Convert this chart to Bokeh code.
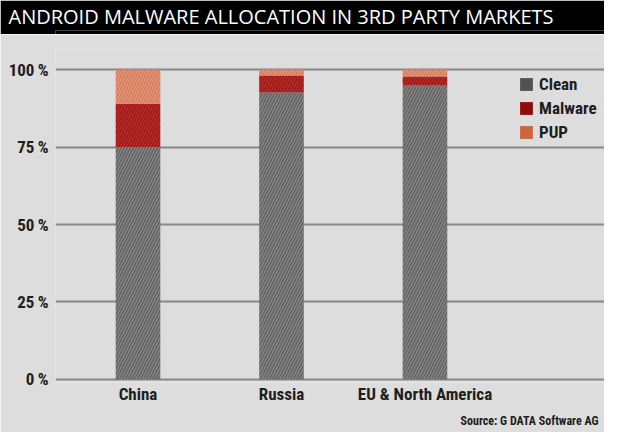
from bokeh.plotting import figure
from bokeh.models import (ColumnDataSource, FixedTicker, Legend, LegendItem, Range1d, Title)
from bokeh.layouts import column
from bokeh.embed import file_html
from bokeh.resources import INLINE

# ---- data ----
markets = ["China", "Russia", "EU & North America"]
clean = [75.0, 92.7, 95.0]
malware = [14.0, 5.4, 2.8]
pup = [11.0, 1.9, 2.2]
y_ticks = [0, 25, 50, 75, 100]
y_tick_labels = ["0\u2009%", "25\u2009%", "50\u2009%", "75\u2009%", "100\u2009%"]
series_names = ["Clean", "Malware", "PUP"]

TITLE = "ANDROID MALWARE ALLOCATION IN 3RD PARTY MARKETS"
SOURCE = "Source: G DATA Software AG"

COND = "Liberation Sans Narrow, Roboto Condensed, DejaVu Sans Condensed, Roboto, sans-serif"
BG = "#dddddd"
LEFT = 55

# ---- title band ----
top = figure(width=604, height=34, output_backend="svg", toolbar_location=None,
             x_range=Range1d(0, 1), y_range=Range1d(0, 1),
             min_border_left=LEFT, min_border_right=0, min_border_top=0, min_border_bottom=0,
             background_fill_color="black", border_fill_color="black",
             outline_line_color=None)
top.axis.visible = False
top.grid.visible = False
top.title = Title(text=TITLE, align="left", offset=-47, standoff=1,
                  text_color="white", text_font="Open Sans", text_font_size="20px",
                  text_font_style="normal")

# ---- main chart ----
xs = list(range(len(markets)))
src = ColumnDataSource(dict(x=xs, clean=clean, malware=malware, pup=pup,
                            b1=clean,
                            t1=[c + m for c, m in zip(clean, malware)],
                            t2=[c + m + u for c, m, u in zip(clean, malware, pup)]))

p = figure(width=604, height=398, output_backend="svg", toolbar_location=None,
           x_range=Range1d(-0.575, 3.251), y_range=Range1d(-1, 106.5),
           min_border_left=LEFT, min_border_right=0, min_border_top=15, min_border_bottom=48,
           background_fill_color=BG, border_fill_color=BG, outline_line_color=None)

p.xgrid.visible = False
p.ygrid.ticker = FixedTicker(ticks=y_ticks)
p.ygrid.grid_line_color = "#888888"
p.ygrid.grid_line_width = 2

bw = 0.31
hatch = dict(hatch_pattern="/", hatch_scale=6, hatch_weight=1.5, hatch_alpha=0.6)
p.vbar(x="x", bottom=0, top="clean", width=bw, source=src,
       fill_color="#5e5e5e", line_color=None, hatch_color="#a0a0a0", **hatch)
p.vbar(x="x", bottom="b1", top="t1", width=bw, source=src,
       fill_color="#9c1414", line_color=None, hatch_color="#c4403a", **hatch)
p.vbar(x="x", bottom="t1", top="t2", width=bw, source=src,
       fill_color="#d27656", line_color=None, hatch_color="#eeb096", **hatch)

# axes
p.xaxis.ticker = FixedTicker(ticks=xs)
p.xaxis.major_label_overrides = {i: m for i, m in enumerate(markets)}
p.yaxis.ticker = FixedTicker(ticks=y_ticks)
p.yaxis.major_label_overrides = {t: l for t, l in zip(y_ticks, y_tick_labels)}
for ax in (p.xaxis[0], p.yaxis[0]):
    ax.axis_line_color = None
    ax.major_tick_line_color = None
    ax.minor_tick_line_color = None
    ax.major_tick_out = 0
    ax.major_tick_in = 0
    ax.major_label_text_font = COND
    ax.major_label_text_font_style = "bold"
    ax.major_label_text_font_size = "17px"
    ax.major_label_text_color = "#1e1e1e"
p.xaxis.major_label_standoff = 1
p.yaxis.major_label_standoff = 7

# legend with solid swatches (NaN geometry: only the legend swatch is drawn)
nan = float("nan")
leg_colors = ["#525252", "#8d0c0c", "#c9653f"]
items = []
for name, col in zip(series_names, leg_colors):
    r = p.quad(left=[nan], right=[nan], top=[nan], bottom=[nan], fill_color=col, line_color=None)
    items.append(LegendItem(label=name, renderers=[r]))
legend = Legend(items=items, location=(463, 240), margin=0, padding=0,
                background_fill_alpha=0, border_line_color=None,
                glyph_width=16, glyph_height=16, label_height=16, spacing=4,
                label_standoff=5, label_text_font=COND, label_text_font_style="bold",
                label_text_font_size="17px", label_text_color="#1e1e1e")
p.add_layout(legend)

# source note
p.add_layout(Title(text=SOURCE, align="right", offset=6, standoff=10,
                   text_font=COND, text_font_style="bold", text_font_size="12px",
                   text_color="#1e1e1e"), "below")

layout = column(top, p, spacing=0)
open("out.html", "w").write(file_html(layout, INLINE))
